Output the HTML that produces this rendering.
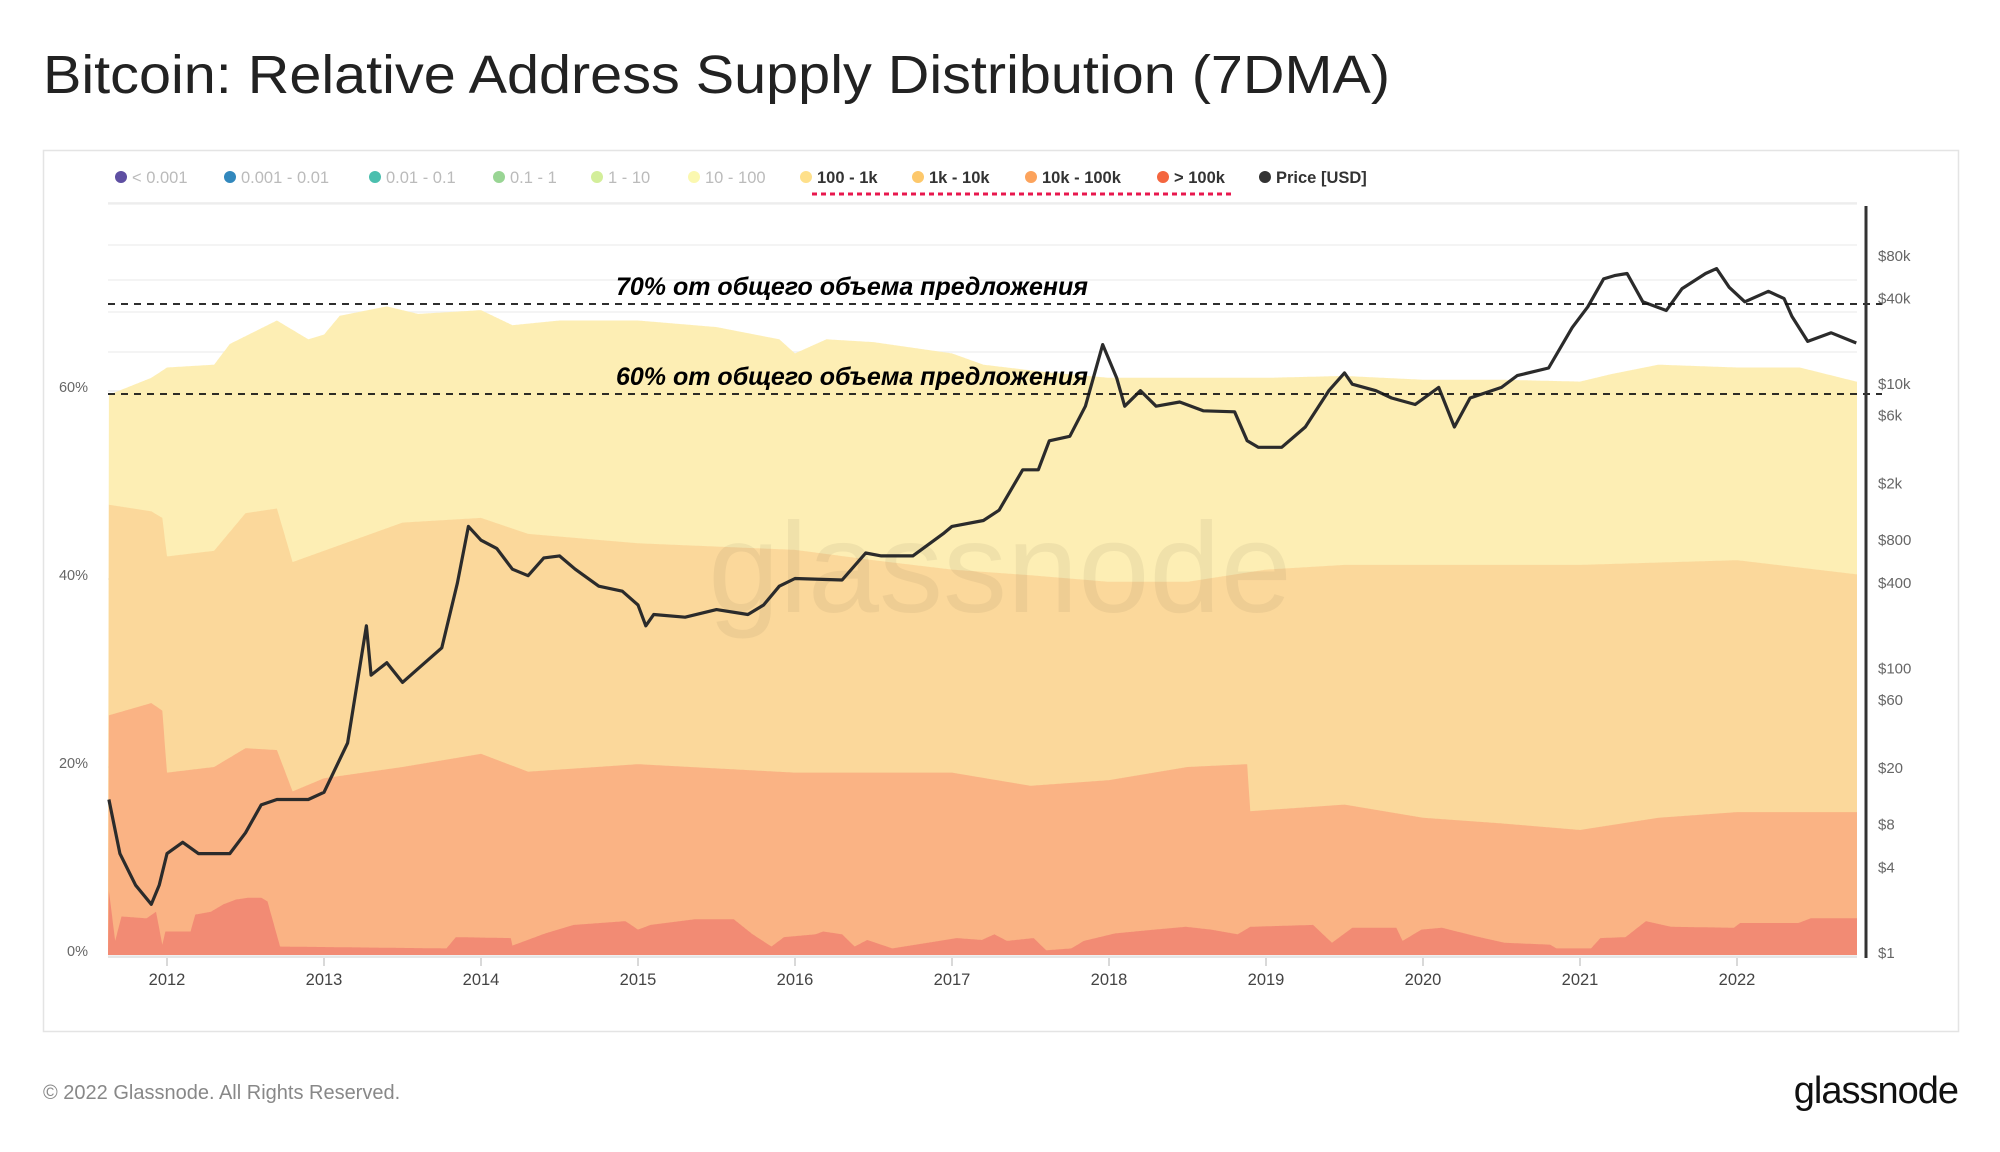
<!DOCTYPE html>
<html><head><meta charset="utf-8"><style>
body{margin:0;background:#fff;width:2000px;height:1152px;overflow:hidden;font-family:"Liberation Sans","DejaVu Sans",sans-serif}
svg{position:absolute;left:0;top:0}
</style></head><body>
<svg id="c" width="2000" height="1152" xmlns="http://www.w3.org/2000/svg">
<text x="43" y="93" font-size="54" fill="#222" textLength="1347" lengthAdjust="spacingAndGlyphs">Bitcoin: Relative Address Supply Distribution (7DMA)</text>
<rect x="43.5" y="150.5" width="1915" height="881" fill="none" stroke="#e4e4e4" stroke-width="1.5"/>
<g id="legend"></g>
<line x1="812" y1="194" x2="1235" y2="194" stroke="#e8174e" stroke-width="3" stroke-dasharray="5,4"/>
<g id="grid"></g>
<g id="areas"></g>
<text x="1000" y="612" font-size="128" fill="#000" fill-opacity="0.05" text-anchor="middle">glassnode</text>
<g id="price"></g>
<g id="axes"></g>
<text x="616" y="295" font-size="25" font-weight="bold" font-style="italic" fill="#000">70% от общего объема предложения</text>
<text x="616" y="385" font-size="25" font-weight="bold" font-style="italic" fill="#000">60% от общего объема предложения</text>
<text x="43" y="1099" font-size="20" fill="#888">© 2022 Glassnode. All Rights Reserved.</text>
<text x="1958" y="1103" font-size="38" fill="#111" text-anchor="end" letter-spacing="-1">glassnode</text>
</svg>
<script>
const ns="http://www.w3.org/2000/svg";
// legend
const legendLabels=["< 0.001","0.001 - 0.01","0.01 - 0.1","0.1 - 1","1 - 10","10 - 100","100 - 1k","1k - 10k","10k - 100k","> 100k","Price [USD]"];
const legendColors=["#5e4fa2","#3288bd","#4bbfae","#99d594","#d3ee9a","#fbf8b0","#fee08b","#fdc86b","#fca35c","#f4663f","#333"];
const legendActive=[0,0,0,0,0,0,1,1,1,1,1];
// stacked cumulative tops (% of supply)
const yearsTop=[2011.63,2011.9,2012.0,2012.3,2012.4,2012.7,2012.9,2013.0,2013.1,2013.4,2013.6,2014.0,2014.2,2014.5,2015.0,2015.5,2015.9,2016.0,2016.2,2016.5,2017.0,2017.2,2017.6,2018.0,2018.5,2019.0,2019.5,2020.0,2020.5,2021.0,2021.2,2021.5,2022.0,2022.4,2022.76];
const top100_1k=[59.6,61.4,62.5,62.8,65,67.5,65.5,66,68,69,68.2,68.6,67,67.5,67.5,66.8,65.5,64,65.5,65.2,64,62.8,62,61.4,61.4,61.4,61.6,61.2,61.2,61,61.8,62.8,62.5,62.5,61];
const years1k=[2011.63,2011.9,2011.97,2012.0,2012.3,2012.5,2012.7,2012.8,2013.0,2013.5,2014.0,2014.3,2015.0,2016.0,2016.5,2017.0,2017.5,2018.0,2018.5,2019.0,2019.5,2020.0,2021.0,2022.0,2022.76];
const top1k_10k=[47.9,47.2,46.5,42.4,43,47,47.5,41.8,43,46,46.5,44.8,43.8,43.1,42,41,40.4,39.7,39.7,41,41.5,41.5,41.5,42,40.5];
const years10k=[2011.63,2011.9,2011.97,2012.0,2012.3,2012.5,2012.7,2012.8,2013.0,2013.5,2014.0,2014.3,2015.0,2016.0,2017.0,2017.5,2018.0,2018.5,2018.88,2018.9,2019.5,2020.0,2020.5,2021.0,2021.5,2022.0,2022.76];
const top10k_100k=[25.5,26.8,26,19.4,20,22,21.8,17.4,18.8,20,21.4,19.5,20.3,19.4,19.4,18,18.6,20,20.3,15.3,16,14.6,14,13.3,14.6,15.2,15.2];
const years100k=[2011.63,2011.67,2011.71,2011.87,2011.93,2011.97,2011.99,2012.15,2012.18,2012.28,2012.36,2012.44,2012.52,2012.60,2012.64,2012.72,2013.78,2013.84,2014.19,2014.20,2014.41,2014.59,2014.92,2015.00,2015.08,2015.36,2015.61,2015.73,2015.85,2015.93,2016.13,2016.18,2016.30,2016.38,2016.46,2016.62,2016.92,2017.03,2017.19,2017.27,2017.35,2017.52,2017.60,2017.76,2017.84,2018.04,2018.29,2018.49,2018.65,2018.82,2018.90,2019.30,2019.42,2019.55,2019.83,2019.87,2019.99,2020.12,2020.36,2020.52,2020.81,2020.85,2021.07,2021.13,2021.29,2021.42,2021.58,2021.98,2022.02,2022.39,2022.47,2022.76];
const top100k=[6.8,1.5,4.1,3.9,4.6,1.1,2.5,2.5,4.3,4.6,5.4,5.9,6.1,6.1,5.7,0.9,0.7,1.9,1.8,1.0,2.3,3.2,3.6,2.7,3.2,3.8,3.8,2.2,0.9,1.9,2.2,2.5,2.2,0.9,1.6,0.7,1.5,1.8,1.6,2.2,1.5,1.8,0.5,0.7,1.5,2.3,2.7,3.0,2.7,2.2,3.0,3.2,1.3,2.9,2.9,1.5,2.7,2.9,1.9,1.3,1.1,0.7,0.7,1.8,1.9,3.6,3.0,2.9,3.4,3.4,3.9,3.9];
// price (USD)
const priceYears=[2011.63,2011.7,2011.8,2011.9,2011.95,2012.0,2012.1,2012.2,2012.4,2012.5,2012.6,2012.7,2012.9,2013.0,2013.15,2013.27,2013.3,2013.4,2013.5,2013.6,2013.75,2013.85,2013.92,2014.0,2014.1,2014.2,2014.3,2014.4,2014.5,2014.6,2014.75,2014.9,2015.0,2015.05,2015.1,2015.3,2015.5,2015.7,2015.8,2015.9,2016.0,2016.3,2016.45,2016.55,2016.75,2016.95,2017.0,2017.2,2017.3,2017.45,2017.55,2017.62,2017.75,2017.85,2017.96,2018.05,2018.1,2018.2,2018.3,2018.45,2018.6,2018.8,2018.88,2018.95,2019.1,2019.25,2019.4,2019.5,2019.55,2019.7,2019.8,2019.95,2020.1,2020.2,2020.3,2020.5,2020.6,2020.8,2020.95,2021.05,2021.15,2021.22,2021.3,2021.4,2021.55,2021.65,2021.8,2021.87,2021.95,2022.05,2022.2,2022.3,2022.35,2022.45,2022.6,2022.76];
const priceValues=[12,5,3,2.2,3,5,6,5,5,7,11,12,12,13.5,30,200,90,110,80,100,140,400,1000,800,700,500,450,600,620,500,380,350,280,200,240,230,260,240,280,380,430,420,650,620,620,900,1000,1100,1300,2500,2500,4000,4300,7000,19000,11000,7000,9000,7000,7500,6500,6400,4000,3600,3600,5000,9000,12000,10000,9000,8000,7200,9500,5000,8000,9500,11500,13000,25000,35000,55000,58000,60000,38000,33000,47000,60000,65000,48000,38000,45000,40000,30000,20000,23000,19500];
const pctTicks=[0,20,40,60];
const priceTicks=[1,4,8,20,60,100,400,800,2000,6000,10000,40000,80000];
const priceTickLabels=["$1","$4","$8","$20","$60","$100","$400","$800","$2k","$6k","$10k","$40k","$80k"];
const yearTicks=[2012,2013,2014,2015,2016,2017,2018,2019,2020,2021,2022];

const X=y=>167+(y-2012)*157;
const Yp=p=>955-p*9.4;
const Yv=v=>953-142.2*Math.log10(v);
const X0=108,X1=1857;
function mk(tag,attrs,parent){const e=document.createElementNS(ns,tag);for(const k in attrs)e.setAttribute(k,attrs[k]);parent.appendChild(e);return e;}
function interp(xs,vs,t){if(t<=xs[0])return vs[0];for(let i=1;i<xs.length;i++){if(t<=xs[i]){const f=(t-xs[i-1])/(xs[i]-xs[i-1]);return vs[i-1]+f*(vs[i]-vs[i-1]);}}return vs[vs.length-1];}

// legend
const lg=document.getElementById('legend');
const lgX=[121,230,375,499,597,694,806,918,1031,1163,1265];
legendLabels.forEach((l,i)=>{
  const g=mk('g',{},lg);
  
  
  mk('circle',{cx:lgX[i],cy:177,r:6,fill:legendColors[i]},g);
  const t=mk('text',{x:lgX[i]+11,y:183,'font-size':16.5,fill:legendActive[i]?'#333':'#bbb','font-weight':legendActive[i]?'bold':'normal'},g);
  t.textContent=l;
});

// grid
const gr=document.getElementById('grid');
[204,245,280,312,352].forEach(y=>mk('line',{x1:X0,x2:X1,y1:y,y2:y,stroke:'#f0f0f0','stroke-width':1.5},gr));
pctTicks.concat([80]).forEach(p=>{const l=mk('line',{x1:X0,x2:X1,y1:Yp(p),y2:Yp(p),stroke:'#ececec','stroke-width':1.5},gr);});

// areas
const ar=document.getElementById('areas');
const bands=[[yearsTop,top100_1k,'#fdeeb4','area-100-1k'],[years1k,top1k_10k,'#fbd89b','area-1k-10k'],[years10k,top10k_100k,'#fab384','area-10k-100k'],[years100k,top100k,'#f28b74','area-gt-100k']];
bands.forEach(b=>{
  let d='M'+X0+','+Yp(0);
  for(let t=2011.63;t<=2022.765;t+=0.005){d+=' L'+X(t).toFixed(1)+','+Yp(interp(b[0],b[1],t)).toFixed(1);}
  d+=' L'+X1+','+Yp(interp(b[0],b[1],2022.76)).toFixed(1)+' L'+X1+','+Yp(0)+'Z';
  const p=mk('path',{d:d,fill:b[2]},ar);
  
  
});

// price
const pr=document.getElementById('price');
let pd='';
for(let i=0;i<priceYears.length;i++){pd+=(i?' L':'M')+X(priceYears[i]).toFixed(1)+','+Yv(priceValues[i]).toFixed(1);}
const pl=mk('path',{d:pd,fill:'none',stroke:'#2b2b2b','stroke-width':3.2,'stroke-linejoin':'round'},pr);



// axes
const ax=document.getElementById('axes');
[70,60].forEach(p=>{const y=p===70?304:394;const l=mk('line',{x1:X0,x2:1882,y1:y,y2:y,stroke:'#111','stroke-width':1.8,'stroke-dasharray':'7,6'},ax);});
mk('line',{x1:1866,x2:1866,y1:206,y2:958,stroke:'#333','stroke-width':3},ax);
pctTicks.forEach(p=>{const t=mk('text',{x:88,y:Yp(p)+1,'font-size':14.5,fill:'#666','text-anchor':'end'},ax);t.textContent=p+'%';});
priceTicks.forEach((v,i)=>{const t=mk('text',{x:1878,y:Yv(v)+5,'font-size':15,fill:'#666'},ax);t.textContent=priceTickLabels[i];});
yearTicks.forEach(y=>{mk('line',{x1:X(y),x2:X(y),y1:958,y2:966,stroke:'#ccc','stroke-width':1.5},ax);const t=mk('text',{x:X(y),y:985,'font-size':16.5,fill:'#444','text-anchor':'middle'},ax);t.textContent=y;});
mk('line',{x1:X0,x2:X1,y1:957,y2:957,stroke:'#ddd','stroke-width':1.5},ax);
</script>
</body></html>
